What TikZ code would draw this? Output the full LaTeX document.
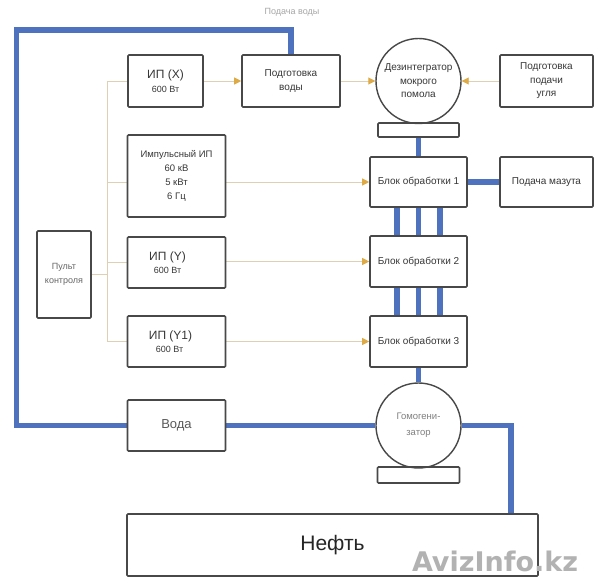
\documentclass[tikz,border=0pt]{standalone}
\usepackage{fontspec}
\setmainfont{Liberation Sans}
\newfontfamily\wmfont{DejaVu Sans}
\usetikzlibrary{arrows.meta}
\definecolor{pipeblue}{RGB}{79,114,190}
\definecolor{boxline}{RGB}{72,72,72}
\definecolor{txt}{RGB}{55,55,55}
\definecolor{sig}{RGB}{222,208,180}
\definecolor{tipcol}{RGB}{222,170,70}
\pgfdeclarelayer{back}
\pgfdeclarelayer{pipes}
\pgfsetlayers{back,pipes,main}
\begin{document}
\begin{tikzpicture}[x=1pt,y=-1pt,
  blk/.style={draw=boxline,line width=1.6pt,rounded corners=1pt,inner sep=0pt,text=txt,align=center,
              font=\fontsize{10}{13.5}\selectfont},
  sz/.style 2 args={minimum width=#1pt,minimum height=#2pt},
  rnd/.style={draw=boxline,line width=1.4pt,circle,inner sep=0pt,minimum size=85pt,text=txt,align=center,
              font=\fontsize{10}{13.5}\selectfont},
  pipe/.style={draw=pipeblue,line width=5.5pt},
  sigline/.style={draw=sig,line width=0.9pt},
  sigarrow/.style={sigline,-{Triangle[length=7pt,width=7pt,color=tipcol]}},
]
\begin{pgfonlayer}{back}
  \fill[white] (0,0) rectangle (595,578);
\end{pgfonlayer}
\useasboundingbox (0,0) rectangle (595,578);

% nodes
\node[blk,sz={75}{52}] (ipx) at (165.5,81) {\fontsize{12}{13}\selectfont ИП (X)\\\fontsize{9}{10}\selectfont 600 Вт};
\node[blk,sz={98}{52}] (podvod) at (291,81) {Подготовка\\воды};
\node[rnd] (dez) at (418.5,81) {\makebox[0pt]{Дезинтегратор}\\\makebox[0pt]{мокрого}\\\makebox[0pt]{помола}};
\node[blk,sz={81}{14}] (dezbase) at (418.5,130) {};
\node[blk,sz={93}{52}] (coal) at (546.5,81) {Подготовка\\подачи\\угля};
\node[blk,sz={98}{82},font=\fontsize{9.5}{14}\selectfont] (imp) at (176.5,176) {Импульсный ИП\\60 кВ\\5 кВт\\6 Гц};
\node[blk,sz={97}{50}] (b1) at (418.5,182) {Блок обработки 1};
\node[blk,sz={93}{50}] (mazut) at (546.5,182) {Подача мазута};
\node[blk,sz={97}{51}] (b2) at (418.5,261.5) {Блок обработки 2};
\node[blk,sz={97}{51}] (b3) at (418.5,341.5) {Блок обработки 3};
\node[blk,sz={98}{51}] (ipy) at (176.5,262.5) {\fontsize{12}{14}\selectfont ИП (Y)\hspace*{18pt}\\\fontsize{9}{10}\selectfont 600 Вт\hspace*{18pt}};
\node[blk,sz={98}{51}] (ipy1) at (176.5,341.5) {\fontsize{12}{14}\selectfont ИП (Y1)\hspace*{12pt}\\\fontsize{9}{10}\selectfont 600 Вт\hspace*{14pt}};
\node[blk,sz={54}{87},font=\fontsize{9}{14.5}\selectfont,text=black!60] (pult) at (64,274.5) {Пульт\\контроля};
\node[blk,sz={98}{51},font=\fontsize{13}{15}\selectfont,text=black!65] (voda) at (176.5,425.5) {Вода};
\node[rnd,font=\fontsize{9.5}{16}\selectfont,text=black!50] (gom) at (418.5,425.5) {\makebox[0pt]{Гомогени-}\\\makebox[0pt]{затор}};
\node[blk,sz={82}{16}] (gombase) at (418.5,475) {};
\node[blk,sz={411}{62},font=\fontsize{21}{24}\selectfont,text=black!85] (neft) at (332.5,545) {Нефть};
\node[font=\fontsize{9}{10}\selectfont,text=black!35] (lblvoda) at (292,12) {Подача воды};

% helper coordinates
\coordinate (tl) at (16.5,30);
\coordinate (nf) at (511,514);
\coordinate (bt) at (107,81);
\coordinate (bb) at (107,341.5);

\begin{pgfonlayer}{pipes}
  % pipes
  \draw[pipe] (voda.west) -| (tl) -| (podvod.north);
  \draw[pipe] (dezbase.south) -- (b1.north);
  \draw[pipe] (b1.east) -- (mazut.west);
  \foreach \dx in {-21.5,0,21.5}{
    \draw[pipe] ([xshift=\dx pt]b1.south) -- ([xshift=\dx pt]b2.north);
    \draw[pipe] ([xshift=\dx pt]b2.south) -- ([xshift=\dx pt]b3.north);
  }
  \draw[pipe] (b3.south) -- (gom.north);
  \draw[pipe] (voda.east) -- (gom.west);
  \draw[pipe] (gom.east) -| (nf);

  % control lines
  \draw[sigline] (pult.east) -- (pult.east -| bt);
  \draw[sigline] (bt) -- (bb);
  \draw[sigline] (bt) -- (ipx.west);
  \draw[sigline] (bt |- b1.west) -- (imp.west |- b1.west);
  \draw[sigline] (bt |- ipy.west) -- (ipy.west);
  \draw[sigline] (bb) -- (ipy1.west);
  \draw[sigarrow] (ipx.east) -- (podvod.west);
  \draw[sigarrow] (podvod.east) -- (dez.west);
  \draw[sigarrow] (coal.west) -- (dez.east);
  \draw[sigarrow] (imp.east |- b1.west) -- (b1.west);
  \draw[sigarrow] (ipy.east |- b2.west) -- (b2.west);
  \draw[sigarrow] (ipy1.east) -- (b3.west);
\end{pgfonlayer}

\node[font=\wmfont\bfseries\fontsize{27}{27}\selectfont,text=black!30] (wm) at (495,561) {AvizInfo.kz};
\end{tikzpicture}
\end{document}
